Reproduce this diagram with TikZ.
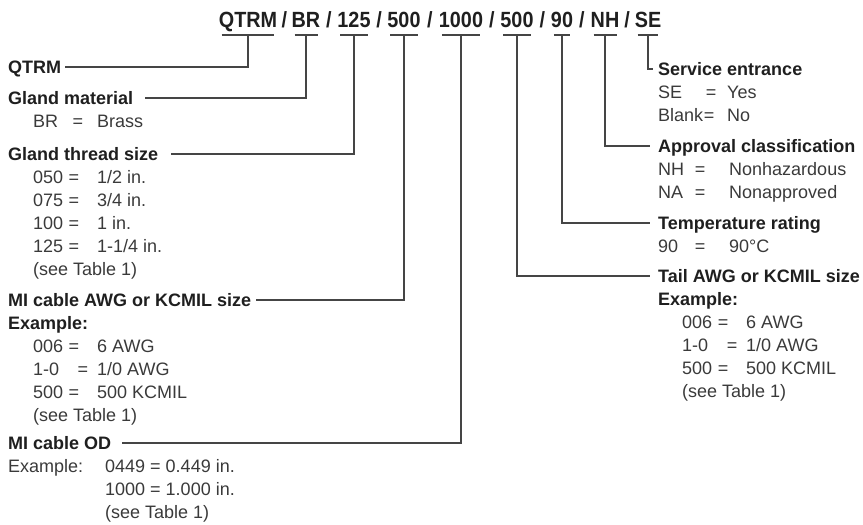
\documentclass[tikz,border=0pt]{standalone}
\usepackage{fontspec}
\setmainfont{Liberation Sans}
\newfontfamily\hdrfont{Liberation Sans}[FakeStretch=0.9]
\usetikzlibrary{calc}
\definecolor{labelcol}{HTML}{1F1F1F}
\definecolor{bodycol}{HTML}{3A3A3A}
\definecolor{linecol}{HTML}{454545}
\tikzset{
  seg/.style={anchor=base,inner sep=0pt,text=labelcol,font=\hdrfont\bfseries\fontsize{22bp}{26bp}\selectfont},
  lbl/.style={anchor=base west,inner sep=0pt,text height=13bp,text depth=0pt,text=labelcol,font=\bfseries\fontsize{18bp}{22bp}\selectfont},
  txt/.style={anchor=base west,inner sep=0pt,text=bodycol,font=\fontsize{18bp}{22bp}\selectfont},
  eqs/.style={txt,anchor=base},
  lead/.style={draw=linecol,line width=1.2bp},
}

\begin{document}
\begin{tikzpicture}[x=1bp,y=-1bp]
\useasboundingbox (0,0) rectangle (863,525);
\node[seg] (s-qtrm) at (248,28) {QTRM};
\node[seg] (s-br) at (306,28) {BR};
\node[seg] (s-thread) at (354,28) {125};
\node[seg] (s-awg) at (404,28) {500};
\node[seg] (s-od) at (461,28) {1000};
\node[seg] (s-tail) at (517,28) {500};
\node[seg] (s-temp) at (562,28) {90};
\node[seg] (s-appr) at (605,28) {NH};
\node[seg] (s-se) at (648,28) {SE};
\foreach \a/\b [count=\i] in {qtrm/br,br/thread,thread/awg,awg/od,od/tail,tail/temp,temp/appr,appr/se}
  \node[seg] (slash-\i) at ($(s-\a.base east)!0.5!(s-\b.base west)$) {/};
\foreach \s in {qtrm,br,thread,awg,od,tail,temp,appr,se}{
  \draw[lead] ([xshift=3bp,yshift=-7bp]s-\s.base west) -- ([xshift=-3bp,yshift=-7bp]s-\s.base east);
  \coordinate (t-\s) at ([yshift=-7bp]s-\s.base);
}

\node[lbl] (l-qtrm) at (8,73.5) {QTRM};
\node[lbl] (l-mat) at (8,104.5) {Gland material};
\node[txt] (mat-k) at (33,127.5) {BR};
\node[eqs] (mat-e) at (78,127.5) {=};
\node[txt] (mat-v) at (97,127.5) {Brass};
\node[lbl] (l-thread) at (8,160.5) {Gland thread size};
\foreach \y/\k/\v [count=\i] in {183.5/050/{1/2 in.},206.5/075/{3/4 in.},229.5/100/{1 in.},252.5/125/{1-1/4 in.}}{
  \node[txt] (thr-\i-k) at (33,\y) {\k};
  \node[eqs] (thr-\i-e) at (74,\y) {=};
  \node[txt] (thr-\i-v) at (97,\y) {\v};
}
\node[txt] (thr-see) at (33,275.5) {(see Table 1)};
\node[lbl] (l-awg) at (8,306.5) {MI cable AWG or KCMIL size};
\node[lbl] (awg-ex) at (8,329.5) {Example:};
\foreach \y/\k/\e/\v [count=\i] in {352.5/006/74/6 AWG,375.5/1-0/83/{1/0 AWG},398.5/500/74/500 KCMIL}{
  \node[txt] (awg-\i-k) at (33,\y) {\k};
  \node[eqs] (awg-\i-e) at (\e,\y) {=};
  \node[txt] (awg-\i-v) at (97,\y) {\v};
}
\node[txt] (awg-see) at (33,421.5) {(see Table 1)};
\node[lbl] (l-od) at (8,449.5) {MI cable OD};
\node[txt] (od-ex) at (8,472.5) {Example:};
\node[txt] (od-1) at (105,472.5) {0449 = 0.449 in.};
\node[txt] (od-2) at (105,495.5) {1000 = 1.000 in.};
\node[txt] (od-see) at (105,518.5) {(see Table 1)};

\node[lbl] (l-se) at (658,75.5) {Service entrance};
\node[txt] (se-1-k) at (658,98.5) {SE};
\node[eqs] (se-1-e) at (711,98.5) {=};
\node[txt] (se-1-v) at (727,98.5) {Yes};
\node[txt] (se-2-k) at (658,121.5) {Blank};
\node[eqs] (se-2-e) at (709,121.5) {=};
\node[txt] (se-2-v) at (727,121.5) {No};
\node[lbl] (l-appr) at (658,152.5) {Approval classification};
\node[txt] (appr-1-k) at (658,175.5) {NH};
\node[eqs] (appr-1-e) at (700,175.5) {=};
\node[txt] (appr-1-v) at (729,175.5) {Nonhazardous};
\node[txt] (appr-2-k) at (658,198.5) {NA};
\node[eqs] (appr-2-e) at (700,198.5) {=};
\node[txt] (appr-2-v) at (729,198.5) {Nonapproved};
\node[lbl] (l-temp) at (658,229.5) {Temperature rating};
\node[txt] (temp-k) at (658,252.5) {90};
\node[eqs] (temp-e) at (700,252.5) {=};
\node[txt] (temp-v) at (729,252.5) {90°C};
\node[lbl] (l-tail) at (658,282.5) {Tail AWG or KCMIL size};
\node[lbl] (tail-ex) at (658,305.5) {Example:};
\foreach \y/\k/\e/\v [count=\i] in {328.5/006/723/6 AWG,351.5/1-0/732/{1/0 AWG},374.5/500/723/500 KCMIL}{
  \node[txt] (tail-\i-k) at (682,\y) {\k};
  \node[eqs] (tail-\i-e) at (\e,\y) {=};
  \node[txt] (tail-\i-v) at (746,\y) {\v};
}
\node[txt] (tail-see) at (682,397.5) {(see Table 1)};

\draw[lead] (t-qtrm) |- ([xshift=4bp]l-qtrm.east);
\draw[lead] (t-br) |- ([xshift=12bp]l-mat.east);
\draw[lead] (t-thread) |- ([xshift=13bp]l-thread.east);
\draw[lead] (t-awg) |- ([xshift=5bp]l-awg.east);
\draw[lead] (t-od) |- ([xshift=11bp]l-od.east);
\draw[lead] (t-se) |- ([xshift=-5bp]l-se.west);
\draw[lead] (t-appr) |- ([xshift=-8bp]l-appr.west);
\draw[lead] (t-temp) |- ([xshift=-8bp]l-temp.west);
\draw[lead] (t-tail) |- ([xshift=-8bp]l-tail.west);
\end{tikzpicture}
\end{document}
